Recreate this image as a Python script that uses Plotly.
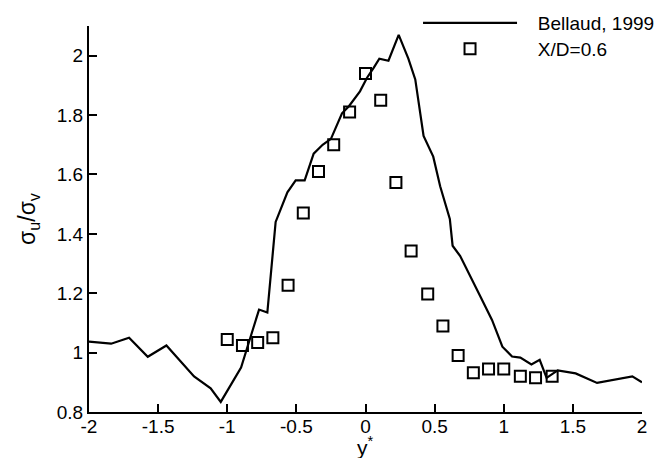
import plotly.graph_objects as go

# Bellaud, 1999 (line)
line_x = [-2.0, -1.84, -1.71, -1.575, -1.44, -1.24, -1.12, -1.047, -0.90, -0.77, -0.71,
          -0.65, -0.565, -0.505, -0.44, -0.375, -0.31, -0.25, -0.17, -0.12, -0.04, 0.01,
          0.06, 0.10, 0.166, 0.24, 0.31, 0.36, 0.42, 0.49, 0.54, 0.61, 0.63, 0.685,
          0.83, 0.915, 0.99, 1.06, 1.12, 1.20, 1.26, 1.31, 1.39, 1.52, 1.675, 1.93, 2.0]
line_y = [1.037, 1.03, 1.05, 0.986, 1.024, 0.92, 0.88, 0.834, 0.95, 1.145, 1.135,
          1.44, 1.54, 1.58, 1.58, 1.67, 1.70, 1.72, 1.806, 1.83, 1.88, 1.925,
          1.96, 1.99, 1.983, 2.07, 1.99, 1.92, 1.73, 1.66, 1.56, 1.45, 1.36, 1.325,
          1.19, 1.11, 1.02, 0.987, 0.983, 0.96, 0.976, 0.915, 0.94, 0.93, 0.898, 0.92, 0.90]

# X/D=0.6 (squares)
sq_x = [-1.0, -0.89, -0.78, -0.67, -0.56, -0.45, -0.34, -0.23, -0.115, 0.0, 0.11,
        0.22, 0.33, 0.45, 0.56, 0.67, 0.78, 0.89, 1.0, 1.12, 1.23, 1.35]
sq_y = [1.044, 1.024, 1.034, 1.05, 1.227, 1.47, 1.61, 1.70, 1.81, 1.94, 1.85,
        1.573, 1.342, 1.197, 1.09, 0.99, 0.932, 0.945, 0.945, 0.92, 0.915, 0.92]

x_ticks = [-2, -1.5, -1, -0.5, 0, 0.5, 1, 1.5, 2]
x_tick_text = ["-2", "-1.5", "-1", "-0.5", "0", "0.5", "1", "1.5", "2"]
y_ticks = [0.8, 1.0, 1.2, 1.4, 1.6, 1.8, 2.0]
y_tick_text = ["0.8", "1", "1.2", "1.4", "1.6", "1.8", "2"]

FONT = "Liberation Sans, Arial, sans-serif"
NBSP = "\u00a0"

fig = go.Figure()
fig.add_trace(go.Scatter(
    x=line_x, y=line_y, mode="lines", name=NBSP * 3 + "Bellaud, 1999",
    line=dict(color="black", width=2.2), legend="legend"))
fig.add_trace(go.Scatter(
    x=sq_x, y=sq_y, mode="markers", name=NBSP * 3 + "X/D=0.6",
    marker=dict(symbol="square-open", size=11, color="black",
                line=dict(color="black", width=2)), legend="legend2"))

leg_common = dict(xanchor="left", yanchor="top", bgcolor="rgba(0,0,0,0)",
                  font=dict(family=FONT, size=19, color="black"), itemwidth=94)

# page body has an 8px margin, so the figure is sized 662x450
fig.update_layout(
    width=662, height=450,
    margin=dict(l=81, r=28, t=18, b=46, autoexpand=False),
    paper_bgcolor="white", plot_bgcolor="white",
    font=dict(family=FONT, size=19, color="black"),
    showlegend=True,
    legend=dict(x=0.595, y=1.057, **leg_common),
    legend2=dict(x=0.595, y=0.99, **leg_common),
    xaxis=dict(range=[-2, 2], tickvals=x_ticks, ticktext=x_tick_text,
               showline=True, linecolor="black", linewidth=2, mirror=False,
               ticks="inside", ticklen=8, tickwidth=2, tickcolor="black",
               ticklabelstandoff=-4,
               showgrid=False, zeroline=False, automargin=False),
    yaxis=dict(range=[0.8, 2.1], tickvals=y_ticks, ticktext=y_tick_text,
               showline=True, linecolor="black", linewidth=2, mirror=False,
               ticks="inside", ticklen=8, tickwidth=2, tickcolor="black",
               showgrid=False, zeroline=False, automargin=False,
               title=dict(text="σ<sub>u</sub>/σ<sub>v</sub>")),
    annotations=[dict(text="y<sup>*</sup>", xref="x", x=0, yref="paper", y=0,
                      yanchor="top", yshift=-19, showarrow=False,
                      font=dict(family=FONT, size=21, color="black"))],
)

fig.write_html("out.html")
